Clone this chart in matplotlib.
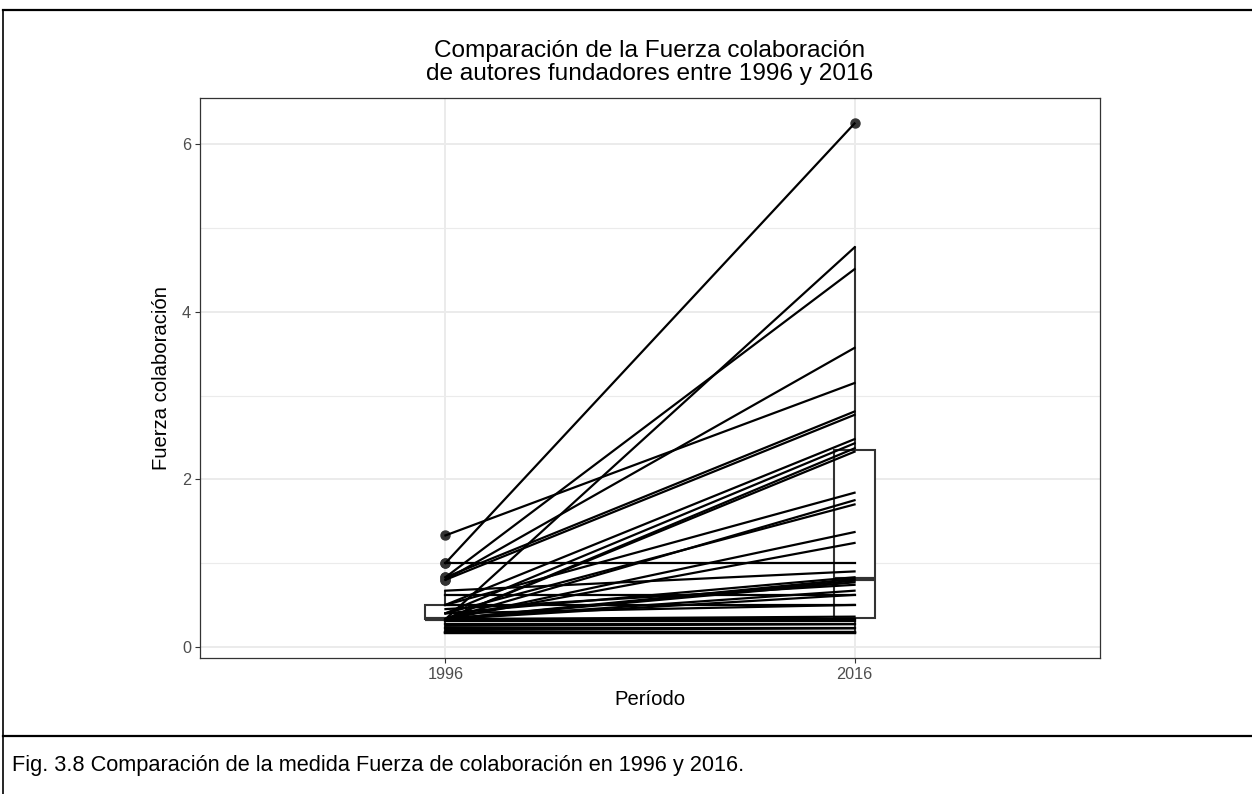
import matplotlib
matplotlib.use('Agg')
import matplotlib.pyplot as plt
from matplotlib.lines import Line2D
import numpy as np

plt.rcParams['font.family'] = ['Liberation Sans', 'DejaVu Sans']

periodos = ['1996', '2016']

# fuerza de colaboracion de cada autor fundador (1996 -> 2016)
fuerza_1996 = [1.00, 0.33, 0.83, 0.80, 1.33, 0.83, 0.80, 0.50, 0.40, 0.33,
               0.33, 0.50, 0.33, 0.40, 0.33, 0.33, 1.00, 0.67, 0.40, 0.33,
               0.33, 0.33, 0.45, 0.33, 0.62, 0.33, 0.50, 0.40, 0.33, 0.33,
               0.31, 0.27, 0.25, 0.22, 0.20, 0.18, 0.18, 0.17, 0.17]
fuerza_2016 = [6.25, 4.77, 4.51, 3.57, 3.15, 2.81, 2.77, 2.48, 2.43, 2.37,
               2.33, 1.84, 1.75, 1.70, 1.37, 1.24, 1.00, 0.90, 0.83, 0.81,
               0.79, 0.77, 0.74, 0.67, 0.62, 0.62, 0.50, 0.50, 0.36, 0.33,
               0.31, 0.27, 0.27, 0.22, 0.22, 0.18, 0.18, 0.17, 0.17]

W, H = 1252, 794
fig = plt.figure(figsize=(W / 100, H / 100), dpi=100)
ax = fig.add_axes([200 / W, 1 - 658 / H, 900 / W, 560 / H])

gris20 = '#333333'
gris30 = '#4D4D4D'

ax.boxplot([fuerza_1996, fuerza_2016], positions=[1, 2], widths=0.1,
           patch_artist=True, showcaps=False, zorder=2,
           boxprops=dict(facecolor='white', edgecolor=gris20, linewidth=1.5),
           whiskerprops=dict(color=gris20, linewidth=1.5),
           medianprops=dict(color=gris20, linewidth=3),
           flierprops=dict(marker='o', markerfacecolor=gris20,
                           markeredgecolor=gris20, markersize=6.5))

for a, b in zip(fuerza_1996, fuerza_2016):
    ax.plot([1, 2], [a, b], color='black', lw=1.6, zorder=3)

lo, hi = min(fuerza_1996 + fuerza_2016), max(fuerza_1996 + fuerza_2016)
pad = 0.05 * (hi - lo)
ax.set_ylim(lo - pad, hi + pad)
ax.set_xlim(0.4, 2.6)

ax.set_xticks([1, 2])
ax.set_xticklabels(periodos)
ax.set_yticks([0, 2, 4, 6])
ax.set_yticks([1, 3, 5], minor=True)
ax.tick_params(axis='both', which='major', length=3.5, width=0.8, color=gris20,
               labelcolor=gris30, labelsize=11.7, pad=3)
ax.tick_params(axis='y', which='minor', length=0)
ax.grid(which='major', color='#EBEBEB', lw=1.4, zorder=0)
ax.grid(which='minor', axis='y', color='#EBEBEB', lw=0.8, zorder=0)
ax.set_axisbelow(True)
for s in ax.spines.values():
    s.set_color(gris20)
    s.set_linewidth(0.9)

ax.set_xlabel('Período', fontsize=14.6, labelpad=6)
ax.set_ylabel('Fuerza colaboración', fontsize=14.6, labelpad=8)
ax.set_title('Comparación de la Fuerza colaboración\nde autores fundadores entre 1996 y 2016',
             fontsize=17.6, linespacing=1.05, pad=13)

# marco del documento y pie de figura
fig.add_artist(Line2D([3 / W, 1], [1 - 10 / H, 1 - 10 / H], color='black', lw=1.6))
fig.add_artist(Line2D([3 / W, 3 / W], [0, 1 - 10 / H], color='black', lw=1.2))
fig.add_artist(Line2D([3 / W, 1], [1 - 736 / H, 1 - 736 / H], color='black', lw=1.6))
fig.text(12 / W, 1 - 765 / H,
         'Fig. 3.8 Comparación de la medida Fuerza de colaboración en 1996 y 2016.',
         fontsize=15.7, va='center', ha='left')

fig.savefig('out.png', dpi=100)
